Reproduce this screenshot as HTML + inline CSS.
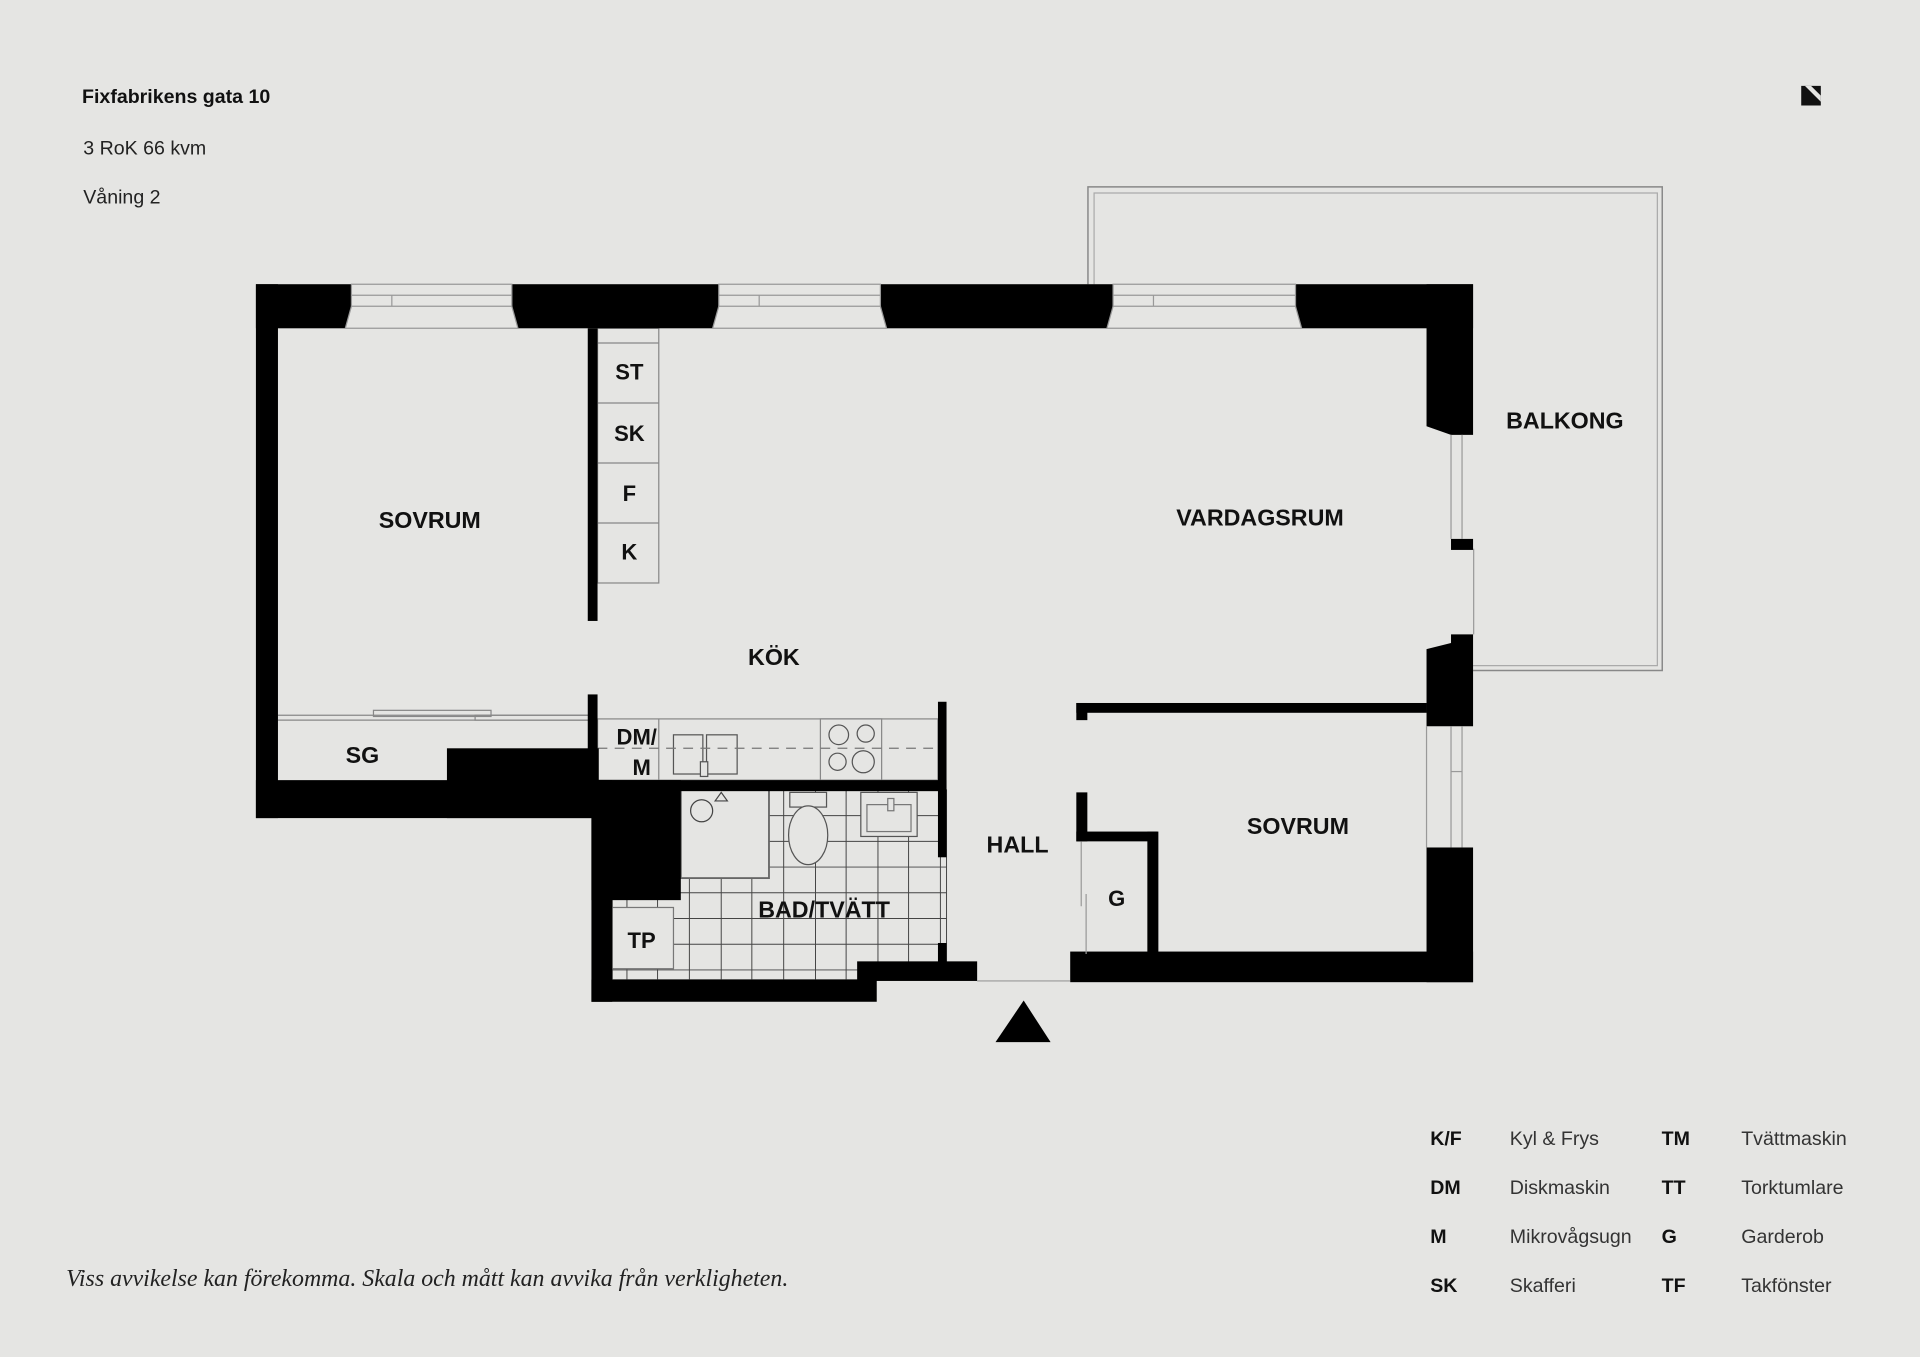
<!DOCTYPE html>
<html><head><meta charset="utf-8"><style>
html,body{margin:0;padding:0;background:#e5e5e3;}
svg{display:block}
text{font-family:"Liberation Sans",sans-serif;fill:#111}
.r{font-size:19px;font-weight:bold;text-anchor:middle}
.b{font-size:16px;font-weight:bold}
.l{font-size:16px;fill:#333}
</style></head><body>
<svg width="1920" height="1357" viewBox="0 0 1568 1108" xmlns="http://www.w3.org/2000/svg">
<rect width="1568" height="1108" fill="#e5e5e3"/>
<text x="67" y="84" class="b">Fixfabrikens gata 10</text>
<text x="68" y="126" class="l" style="fill:#222">3 RoK 66 kvm</text>
<text x="68" y="166" class="l" style="fill:#222">Våning 2</text>
<polygon points="1471,70 1487,70 1487,86 1471,86" fill="#111"/>
<polygon points="1474,70 1487,83 1487,78 1479,70" fill="#e5e5e3"/>
<!-- balcony -->
<path d="M888.5 232V152.5H1357.5V547.5H1203" fill="none" stroke="#888" stroke-width="1.2"/>
<path d="M893.5 232V157.5H1353.5V543.5H1203" fill="none" stroke="#aaa" stroke-width="1"/>
<line x1="1203.5" y1="448" x2="1203.5" y2="518" stroke="#999"/>
<!-- tiles bathroom -->
<g stroke="#444" stroke-width="0.8">
<rect x="500" y="645" width="273" height="155" fill="#e5e5e3"/>
<path d="M500 666H773M500 687H773M500 708H773M500 729H773M500 750H773M500 771H773M500 792H773
M512 645V800M537 645V800M563 645V800M589 645V800M614 645V800M640 645V800M666 645V800M691 645V800M717 645V800M742 645V800M768 645V800" fill="none"/>
</g>
<!-- shower -->
<rect x="556" y="645" width="72" height="72" fill="#e5e5e3" stroke="#666" stroke-width="1.5"/>
<circle cx="573" cy="662" r="9" fill="none" stroke="#444"/>
<path d="M584 654 L589 647 L594 654 Z" fill="none" stroke="#444"/>
<!-- toilet -->
<rect x="645" y="647" width="30" height="12" fill="#e5e5e3" stroke="#555"/>
<ellipse cx="660" cy="682" rx="16" ry="24" fill="#e5e5e3" stroke="#555"/>
<!-- sink -->
<rect x="703" y="647" width="46" height="36" fill="#e5e5e3" stroke="#555"/>
<rect x="708" y="657" width="36" height="22" fill="none" stroke="#777"/>
<rect x="725" y="652" width="5" height="10" fill="#e5e5e3" stroke="#777"/>
<!-- TP -->
<rect x="500" y="741" width="50" height="50" fill="#e5e5e3" stroke="#777"/>
<text x="524" y="774" class="r" style="font-size:18px">TP</text>
<!-- kitchen bench -->
<g stroke="#888" stroke-width="1" fill="none">
<rect x="488" y="587" width="278" height="50"/>
<line x1="538" y1="587" x2="538" y2="637"/>
<rect x="550" y="600" width="24" height="32" fill="#e5e5e3" stroke="#555"/>
<rect x="577" y="600" width="25" height="32" fill="#e5e5e3" stroke="#555"/>
<rect x="572" y="622" width="6" height="12" fill="#e5e5e3" stroke="#555"/>
<rect x="670" y="587" width="50" height="50"/>
<circle cx="685" cy="600" r="8" stroke="#555"/><circle cx="707" cy="599" r="7" stroke="#555"/>
<circle cx="684" cy="622" r="7" stroke="#555"/><circle cx="705" cy="622" r="9" stroke="#555"/>
<line x1="488" y1="611" x2="766" y2="611" stroke="#777" stroke-dasharray="8,6"/>
<!-- cabinets -->
<rect x="488" y="268" width="50" height="208"/>
<line x1="488" y1="280" x2="538" y2="280"/><line x1="488" y1="329" x2="538" y2="329"/>
<line x1="488" y1="378" x2="538" y2="378"/><line x1="488" y1="427" x2="538" y2="427"/>
<!-- SG -->
<line x1="227" y1="584" x2="483" y2="584"/><line x1="227" y1="588" x2="483" y2="588"/>
<rect x="305" y="580" width="96" height="5"/><rect x="388" y="584" width="95" height="4"/>
</g>
<!-- walls -->
<g fill="#000">
<rect x="209" y="232" width="994" height="36"/>
<rect x="209" y="232" width="18" height="436"/>
<rect x="209" y="637" width="280" height="31"/>
<rect x="365" y="611" width="124" height="57"/>
<rect x="480" y="268" width="8" height="239"/>
<rect x="480" y="567" width="8" height="78"/>
<rect x="483" y="637" width="290" height="9"/>
<rect x="483" y="637" width="73" height="98"/>
<rect x="483" y="637" width="17" height="181"/>
<rect x="483" y="800" width="233" height="18"/>
<rect x="700" y="785" width="98" height="16"/>
<rect x="766" y="573" width="7" height="127"/>
<rect x="766" y="770" width="7" height="20"/>
<rect x="874" y="777" width="329" height="25"/>
<rect x="879" y="574" width="286" height="8"/>
<rect x="879" y="574" width="9" height="14"/>
<rect x="879" y="647" width="9" height="40"/>
<rect x="879" y="679" width="66" height="8"/>
<rect x="937" y="679" width="9" height="100"/>
<polygon points="1165,232 1203,232 1203,355 1185,355 1165,348"/>
<rect x="1185" y="440" width="18" height="9"/>
<polygon points="1185,518 1203,518 1203,593 1165,593 1165,530 1185,525"/>
<rect x="1165" y="692" width="38" height="110"/>
</g>
<!-- top windows -->
<g fill="#e5e5e3" stroke="#999" stroke-width="1">
<polygon points="287,232 418,232 418,250 423,268 282,268 287,250"/>
<polygon points="587,232 719,232 719,250 724,268 582,268 587,250"/>
<polygon points="909,232 1058,232 1058,250 1063,268 904,268 909,250"/>
</g>
<g stroke="#999" stroke-width="1">
<line x1="287" y1="241" x2="418" y2="241"/><line x1="287" y1="250" x2="418" y2="250"/><line x1="320" y1="241" x2="320" y2="250"/>
<line x1="587" y1="241" x2="719" y2="241"/><line x1="587" y1="250" x2="719" y2="250"/><line x1="620" y1="241" x2="620" y2="250"/>
<line x1="909" y1="241" x2="1058" y2="241"/><line x1="909" y1="250" x2="1058" y2="250"/><line x1="942" y1="241" x2="942" y2="250"/>
<line x1="1185" y1="355" x2="1185" y2="440"/><line x1="1194" y1="355" x2="1194" y2="440"/>
<line x1="1165" y1="593" x2="1165" y2="692"/><line x1="1185" y1="593" x2="1185" y2="692"/><line x1="1194" y1="593" x2="1194" y2="692"/><line x1="1185" y1="630" x2="1194" y2="630"/>
<line x1="883" y1="687" x2="883" y2="740"/><line x1="887" y1="730" x2="887" y2="779"/>
<line x1="798" y1="801" x2="874" y2="801"/>
</g>
<polygon points="836,817 813,851 858,851" fill="#000"/>
<!-- labels -->
<text x="351" y="431" class="r">SOVRUM</text>
<text x="296" y="623" class="r">SG</text>
<text x="514" y="310" class="r" style="font-size:18px">ST</text>
<text x="514" y="360" class="r" style="font-size:18px">SK</text>
<text x="514" y="409" class="r" style="font-size:18px">F</text>
<text x="514" y="457" class="r" style="font-size:18px">K</text>
<text x="632" y="543" class="r">KÖK</text>
<text x="520" y="608" class="r" style="font-size:18px">DM/</text>
<text x="524" y="633" class="r" style="font-size:18px">M</text>
<text x="1029" y="429" class="r">VARDAGSRUM</text>
<text x="1278" y="350" class="r">BALKONG</text>
<text x="831" y="696" class="r">HALL</text>
<text x="1060" y="681" class="r">SOVRUM</text>
<text x="912" y="740" class="r" style="font-size:18px">G</text>
<text x="673" y="749" class="r">BAD/TVÄTT</text>
<text x="54" y="1050" style="font-family:'Liberation Serif',serif;font-style:italic;font-size:19.5px;fill:#222">Viss avvikelse kan förekomma. Skala och mått kan avvika från verkligheten.</text>
<g>
<text x="1168" y="935" class="b">K/F</text><text x="1233" y="935" class="l">Kyl &amp; Frys</text>
<text x="1357" y="935" class="b">TM</text><text x="1422" y="935" class="l">Tvättmaskin</text>
<text x="1168" y="975" class="b">DM</text><text x="1233" y="975" class="l">Diskmaskin</text>
<text x="1357" y="975" class="b">TT</text><text x="1422" y="975" class="l">Torktumlare</text>
<text x="1168" y="1015" class="b">M</text><text x="1233" y="1015" class="l">Mikrovågsugn</text>
<text x="1357" y="1015" class="b">G</text><text x="1422" y="1015" class="l">Garderob</text>
<text x="1168" y="1055" class="b">SK</text><text x="1233" y="1055" class="l">Skafferi</text>
<text x="1357" y="1055" class="b">TF</text><text x="1422" y="1055" class="l">Takfönster</text>
</g>
</svg>
</body></html>
